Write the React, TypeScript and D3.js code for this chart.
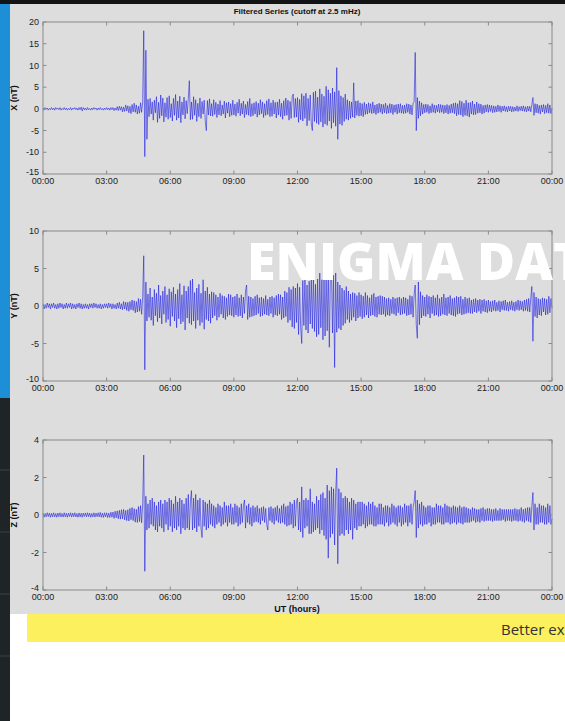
import React from "react";
import * as d3 from "d3";

// ---- data (one value every 0.05 h, 0..24 h; one row per hour) ----
const seriesX = [
  0.2,-0.3,0.3,-0.1,0.2,-0.3,0.1,-0.2,0.3,-0.2,0.2,-0.3,0.3,-0.1,0.2,-0.2,0.3,-0.3,0.1,-0.2,
  0.3,-0.2,0.2,-0.3,0.1,-0.2,0.3,-0.3,0.2,-0.1,0.3,-0.2,0.2,-0.3,0.3,-0.2,0.4,-0.5,0.3,-0.2,
  0.2,-0.3,0.3,-0.2,0.1,-0.3,0.2,-0.2,0.3,-0.1,0.2,-0.3,0.2,-0.2,0.3,-0.2,0.1,-0.3,0.2,-0.2,
  0.3,-0.2,0.2,-0.3,0.3,-0.2,0.3,-0.4,0.2,-0.3,0.5,-0.4,0.6,-0.3,0.5,-0.7,0.4,-0.6,0.9,-0.5,
  0.7,-0.9,0.6,-1.1,1.0,-0.7,1.3,-0.8,0.9,-1.2,0.6,-1.0,1.4,-0.8,1.6,18,-11,13.5,-7,2.2,
  -1.8,2.4,-1.2,1.6,-2.6,2.0,-0.9,2.8,-3.1,1.5,-2.2,3.2,-1.6,2.5,-3.0,1.4,-1.9,2.6,-2.4,3.0,
  -2.0,1.2,-2.8,2.4,-1.5,3.3,-2.6,1.8,-2.1,2.9,-3.2,1.6,-1.4,2.7,-2.3,1.9,-1.1,2.2,6.5,-2.5,
  1.6,-2.4,2.8,-1.5,2.1,-2.9,1.3,-1.8,2.5,-2.2,1.7,-1.2,2.0,-2.7,-5.0,1.9,-1.4,2.3,-1.6,1.2,
  -1.7,2.1,-1.3,1.5,-2.0,1.1,-1.4,1.9,-1.6,0.9,-1.2,1.8,-2.1,1.4,-1.0,1.6,-1.8,1.2,-1.5,2.0,
  -1.4,1.1,-1.7,1.5,-1.0,2.2,-1.6,1.3,-1.2,1.8,-2.0,1.0,-1.3,1.7,-1.5,2.4,-1.8,1.2,-1.6,1.4,
  -1.2,1.7,-1.9,1.3,-1.4,2.1,-1.1,1.6,-2.0,1.2,-1.5,1.9,-1.3,2.3,-1.8,1.4,-1.7,2.0,-1.2,1.5,
  -2.1,1.6,-1.4,2.2,-1.8,1.3,-2.4,1.9,-1.6,2.5,-1.5,2.0,-2.6,1.7,-2.2,2.8,3.4,-2.0,2.4,-1.9,
  2.6,-3.1,2.2,-2.5,3.5,-2.8,3.0,-2.2,3.6,-3.9,2.4,-2.7,3.2,-3.4,-5.0,3.8,-2.9,4.1,-3.3,2.7,
  -3.6,4.6,-3.0,3.4,-4.2,2.9,-3.5,5.2,-3.8,4.4,-2.8,3.6,-4.5,4.8,-3.2,3.9,-4.0,9.5,-7.0,4.2,
  -3.5,3.0,-3.8,2.6,-2.9,3.4,-2.4,2.1,-2.6,1.8,-2.2,1.6,-1.9,6.0,-2.1,1.8,-1.5,1.9,-1.7,1.4,
  -1.6,1.2,-1.8,1.5,-1.3,1.1,-1.2,1.4,-0.9,1.2,-1.1,1.6,-1.0,0.9,-1.3,1.1,-1.0,1.3,-0.8,1.1,
  -1.2,1.0,-0.9,1.3,-1.1,0.8,-1.0,1.2,-0.9,1.1,-1.3,0.9,-0.8,1.0,-1.2,1.1,-0.9,1.2,-1.0,0.8,
  -1.1,0.9,-1.0,1.2,-0.8,1.1,-1.2,0.9,-1.4,1.3,1.6,13.0,-5.0,2.6,-2.2,1.8,-1.6,1.4,-1.2,1.0,
  -0.9,1.1,-0.8,1.0,-1.1,0.7,-0.9,1.2,-0.8,0.9,-1.0,0.8,-0.7,1.1,-0.9,1.0,-0.8,0.9,-1.1,0.8,
  -0.9,1.0,-1.2,0.8,-1.0,1.1,-0.9,1.3,-1.1,1.4,-1.6,1.2,-1.3,1.9,-1.4,1.7,-1.8,1.3,-1.5,2.0,
  -1.6,1.4,-1.9,1.5,-1.2,1.8,-1.4,1.1,-1.3,1.6,-1.0,1.2,-0.9,1.1,-1.2,0.8,-1.0,0.9,-0.7,1.0,
  -0.8,0.9,-0.6,0.8,-0.9,0.7,-0.8,0.6,-0.7,0.9,-0.6,0.7,-0.8,0.6,-0.5,0.7,-0.6,0.5,-0.7,0.6,
  -0.5,0.6,-0.7,0.5,-0.6,0.4,-0.5,0.7,-0.6,0.5,-0.4,0.6,-0.5,0.7,-0.6,0.5,-0.7,0.6,-0.5,0.6,
  -0.7,1.0,2.6,-1.5,1.2,-0.9,1.1,-1.0,0.8,-1.2,0.9,-0.7,1.0,-1.1,0.8,-0.9,1.2,-1.0,0.9,-1.1,
  0.2,
];

const seriesY = [
  0.3,-0.4,0.2,-0.3,0.4,-0.2,0.3,-0.4,0.3,-0.2,0.4,-0.3,0.2,-0.4,0.3,-0.3,0.4,-0.2,0.3,-0.4,
  0.2,-0.3,0.4,-0.3,0.3,-0.2,0.4,-0.4,0.3,-0.3,0.2,-0.4,0.3,-0.2,0.4,-0.3,0.3,-0.4,0.2,-0.3,
  0.3,-0.3,0.2,-0.4,0.3,-0.2,0.3,-0.3,0.4,-0.2,0.3,-0.3,0.2,-0.3,0.3,-0.4,0.2,-0.3,0.3,-0.2,
  0.3,-0.3,0.4,-0.2,0.3,-0.4,0.3,-0.3,0.2,-0.4,0.4,-0.3,0.5,-0.4,0.3,-0.5,0.6,-0.4,0.5,-0.6,
  0.5,-0.7,0.6,-0.5,0.8,-0.6,0.7,-0.9,0.6,-0.8,1.0,-0.7,0.9,-1.1,1.2,6.7,-8.5,3.2,-2.0,1.6,
  -1.5,2.4,-1.9,1.2,-2.6,2.2,-1.3,1.7,-2.1,2.8,-1.6,1.4,-2.4,2.0,-1.1,2.6,-2.2,1.5,-1.8,2.3,
  -2.7,1.9,-1.4,2.5,-2.0,1.6,-2.9,2.2,-1.7,3.0,-2.4,1.5,-2.1,2.7,-3.2,2.0,-1.6,2.6,-2.3,3.4,
  -2.5,3.6,-2.0,1.8,-3.0,2.4,-1.9,2.9,-2.6,1.7,-2.2,3.5,-3.1,2.0,-1.8,2.5,-2.0,1.6,-2.3,1.9,
  -1.6,1.8,-1.3,1.5,-1.9,1.2,-1.5,1.7,-1.1,1.4,-1.6,1.3,-1.8,1.1,-1.4,1.6,-1.2,1.5,-1.3,1.2,
  -1.5,1.3,-1.2,1.6,-1.4,1.1,-1.3,1.5,-1.6,1.2,-1.0,2.0,2.8,-1.8,1.3,-1.5,1.2,-1.4,1.0,-1.3,
  1.3,-1.2,1.5,-1.0,1.1,-1.4,1.2,-1.3,1.0,-1.1,1.4,-1.2,0.9,-1.3,1.2,-1.0,1.3,-1.5,1.1,-1.2,
  1.4,-1.3,1.6,-1.1,1.5,-1.8,1.2,-1.6,2.0,-1.4,1.8,-2.2,2.5,-1.9,2.2,-2.8,2.6,-3.0,2.4,-2.2,
  3.0,-3.8,2.5,-2.9,-5.0,3.4,-2.6,4.0,-3.2,2.8,-3.6,3.3,-2.4,3.7,-3.0,4.2,-3.4,2.9,-4.1,3.6,
  -3.8,4.4,-2.9,3.5,-4.5,3.8,-4.0,4.6,-3.3,5.0,-5.5,3.9,5.2,-3.6,4.1,-8.2,4.4,-3.5,3.2,-3.0,
  2.8,-3.2,2.4,-2.6,2.1,-2.3,2.6,-1.8,2.0,-2.2,1.6,-1.9,1.8,-1.5,1.7,-2.0,1.4,-1.6,1.8,-1.4,
  1.5,-1.7,1.3,-1.5,1.8,-1.2,1.4,-1.6,1.1,-1.3,1.5,-1.2,1.7,-1.4,1.2,-1.5,1.3,-1.1,1.4,-1.2,
  1.3,-1.1,1.2,-1.4,1.0,-1.2,1.1,-1.3,0.9,-1.0,1.2,-1.1,1.0,-1.3,1.1,-0.9,1.2,-1.2,1.0,-1.1,
  1.2,-1.0,1.1,-1.3,0.9,-1.2,1.4,-1.1,1.3,-1.5,1.6,2.8,-2.5,-4.3,3.2,-2.5,1.9,-1.6,1.4,-1.3,
  1.2,-1.4,1.5,-1.1,1.3,-1.6,1.2,-1.0,1.4,-1.3,1.1,-1.2,1.5,-1.4,1.0,-1.3,1.2,-1.1,1.6,-1.2,
  1.1,-1.3,1.2,-1.0,1.4,-1.2,1.0,-1.3,1.1,-1.4,1.3,-1.1,1.2,-1.0,1.3,-1.2,0.9,-1.1,1.2,-1.0,
  1.0,-0.9,1.1,-1.0,0.8,-1.0,0.9,-0.8,1.0,-0.9,0.8,-0.7,0.9,-1.0,0.8,-0.7,0.9,-0.8,0.7,-0.9,
  0.8,-0.7,0.6,-0.8,0.7,-0.6,0.8,-0.7,0.5,-0.6,0.7,-0.8,0.6,-0.5,0.7,-0.6,0.8,-0.6,0.5,-0.7,
  0.6,-0.5,0.7,-0.6,0.5,-0.7,0.6,-0.5,0.8,-0.6,0.7,-0.5,0.6,-0.7,0.8,-0.6,0.9,-0.7,1.0,-0.8,
  1.1,2.6,-4.7,1.8,-1.4,1.2,-1.6,1.0,-1.2,0.9,-1.3,1.1,-0.8,1.0,-1.2,0.9,-1.1,1.3,-0.9,1.0,
  -0.3,
];

const seriesZ = [
  0.1,-0.12,0.08,-0.1,0.12,-0.08,0.1,-0.12,0.09,-0.1,0.12,-0.1,0.08,-0.12,0.1,-0.09,0.12,-0.1,0.08,-0.11,
  0.12,-0.1,0.09,-0.12,0.1,-0.08,0.12,-0.11,0.1,-0.09,0.12,-0.1,0.08,-0.12,0.11,-0.1,0.09,-0.12,0.1,-0.08,
  0.11,-0.1,0.12,-0.09,0.1,-0.12,0.08,-0.1,0.12,-0.11,0.1,-0.09,0.12,-0.1,0.14,-0.12,0.1,-0.13,0.12,-0.1,
  0.12,-0.14,0.1,-0.13,0.15,-0.12,0.16,-0.18,0.2,-0.15,0.22,-0.2,0.25,-0.22,0.28,-0.2,0.3,-0.26,0.24,-0.3,
  0.28,-0.32,0.35,-0.25,0.4,-0.3,0.34,-0.38,0.3,-0.4,0.45,-0.35,0.5,-0.42,0.6,3.2,-3.0,1.0,-0.8,0.6,
  -0.7,0.8,-0.5,0.9,-0.6,0.7,-0.8,0.5,-0.9,0.7,-0.6,0.8,-0.7,0.6,-0.9,0.8,-0.5,0.7,-0.8,0.9,
  -0.6,0.8,-0.9,0.6,-0.7,1.0,-0.8,0.7,-0.6,0.9,-1.0,0.8,-0.7,0.6,-0.8,0.9,-0.7,1.1,-0.8,0.7,
  1.3,-0.8,0.9,-0.7,1.1,-0.9,0.8,-0.6,0.9,-0.7,-1.2,0.8,-0.6,0.7,-0.8,0.6,-0.7,0.8,-0.5,0.6,
  -0.6,0.5,-0.7,0.4,-0.5,0.6,-0.4,0.5,-0.6,0.4,-0.5,0.7,-0.4,0.5,-0.6,0.5,-0.4,0.6,-0.5,0.4,
  -0.5,0.6,-0.4,0.5,-0.6,0.4,-0.5,0.6,-0.4,0.5,0.8,-0.7,0.5,-0.4,0.6,-0.5,0.4,-0.6,0.5,-0.4,
  0.4,-0.35,0.5,-0.4,0.35,-0.5,0.4,-0.3,0.45,-0.4,0.35,-0.5,-0.8,0.4,-0.3,0.45,-0.4,0.35,-0.5,0.4,
  -0.3,0.5,-0.4,0.35,-0.45,0.5,-0.4,0.6,-0.5,0.45,-0.6,0.5,-0.55,0.7,-0.5,0.6,-0.7,0.8,-0.6,0.7,
  0.9,-0.8,0.7,-0.9,1.5,-1.2,0.8,-0.7,0.9,-0.6,0.8,-1.0,1.4,-1.0,0.7,-0.9,0.6,-0.8,1.0,-0.7,
  0.8,-1.0,1.1,-0.8,1.2,-1.1,0.9,-1.3,1.6,-2.3,1.3,-1.2,1.5,-1.0,1.4,-1.6,1.2,2.5,-2.6,1.4,
  -1.1,1.2,-1.0,0.9,-1.1,1.0,-0.8,0.9,-1.0,0.7,-0.8,0.9,-1.3,0.8,-0.7,0.6,-0.8,0.7,-0.6,0.7,
  -0.6,0.7,-0.5,0.6,-0.7,0.5,-0.6,0.7,-0.5,0.6,-0.5,0.7,-0.6,0.5,-0.6,0.4,-0.5,0.6,-0.5,0.6,
  -0.5,0.4,-0.6,0.5,-0.4,0.5,-0.6,0.4,-0.5,0.6,-0.4,0.5,-0.5,0.4,-0.6,0.5,-0.4,0.5,-0.6,0.4,
  -0.5,0.6,-0.4,0.5,-0.6,0.5,-0.4,0.6,-0.5,0.4,0.7,1.3,-1.2,0.8,-0.7,0.6,-0.5,0.7,-0.6,0.5,
  -0.5,0.4,-0.5,0.5,-0.4,0.5,-0.6,0.4,-0.5,0.4,-0.5,0.6,-0.4,0.5,-0.4,0.5,-0.5,0.4,-0.5,0.6,
  -0.4,0.5,-0.4,0.45,-0.5,0.4,-0.45,0.5,-0.4,0.45,-0.5,0.4,-0.4,0.5,-0.45,0.4,-0.5,0.45,-0.4,0.4,
  -0.4,0.35,-0.4,0.3,-0.35,0.4,-0.3,0.35,-0.4,0.3,-0.35,0.3,-0.4,0.35,-0.3,0.4,-0.35,0.3,-0.3,0.35,
  -0.3,0.35,-0.3,0.3,-0.35,0.3,-0.3,0.35,-0.3,0.25,-0.3,0.35,-0.3,0.3,-0.25,0.3,-0.35,0.3,-0.3,0.3,
  -0.3,0.3,-0.35,0.3,-0.3,0.35,-0.3,0.3,-0.35,0.3,-0.3,0.4,-0.35,0.3,-0.4,0.35,-0.3,0.4,-0.35,0.4,
  -0.4,0.5,1.2,-0.8,0.6,-0.5,0.4,-0.5,0.6,-0.4,0.5,-0.4,0.5,-0.5,0.4,-0.5,0.6,-0.4,0.5,-0.5,
  -0.2,
];

const STEP_HOURS = 0.05;
const hourTicks = [0, 3, 6, 9, 12, 15, 18, 21, 24];
const hourLabels = ["00:00", "03:00", "06:00", "09:00", "12:00", "15:00", "18:00", "21:00", "00:00"];

const yLabels = ["X (nT)", "Y (nT)", "Z (nT)"];
const yDomains: [number, number][] = [[-15, 20], [-10, 10], [-4, 4]];
const yTickValues = [
  [-15, -10, -5, 0, 5, 10, 15, 20],
  [-10, -5, 0, 5, 10],
  [-4, -2, 0, 2, 4],
];
const allSeries = [seriesX, seriesY, seriesZ];

const titleText = "Filtered Series (cutoff at 2.5 mHz)";
const xAxisLabel = "UT (hours)";

// ---- layout ----
const W = 565;
const H = 721;
const PLOT_LEFT = 43;
const PLOT_RIGHT = 552;
const panelTops = [22, 231, 440];
const panelBottoms = [174, 381, 590];
const FONT = "'Liberation Sans', Arial, Helvetica, sans-serif";

function Panel({ idx }: { idx: number }) {
  const top = panelTops[idx];
  const bottom = panelBottoms[idx];
  const x = d3.scaleLinear().domain([0, 24]).range([PLOT_LEFT, PLOT_RIGHT]);
  const y = d3.scaleLinear().domain(yDomains[idx]).range([bottom, top]);
  const data = allSeries[idx];
  const line = d3
    .line<number>()
    .x((_, i) => x(i * STEP_HOURS))
    .y((v) => y(v));
  const tickLen = 3.5;
  const axisColor = "#8a8a8a";
  const mid = (top + bottom) / 2;
  return (
    <g>
      <path d={line(data) || ""} fill="none" stroke="#1212e4" strokeWidth={0.55} strokeLinejoin="round" />
      <rect x={PLOT_LEFT} y={top} width={PLOT_RIGHT - PLOT_LEFT} height={bottom - top} fill="none" stroke={axisColor} strokeWidth={1} />
      {hourTicks.map((h, i) => (
        <g key={"xt" + i}>
          <line x1={x(h)} x2={x(h)} y1={bottom} y2={bottom - tickLen} stroke={axisColor} />
          <line x1={x(h)} x2={x(h)} y1={top} y2={top + tickLen} stroke={axisColor} />
          <text x={x(h)} y={bottom + 10} fontSize={9} textAnchor="middle" fill="#222" fontFamily={FONT}>
            {hourLabels[i]}
          </text>
        </g>
      ))}
      {yTickValues[idx].map((v, i) => (
        <g key={"yt" + i}>
          <line x1={PLOT_LEFT} x2={PLOT_LEFT + tickLen} y1={y(v)} y2={y(v)} stroke={axisColor} />
          <line x1={PLOT_RIGHT} x2={PLOT_RIGHT - tickLen} y1={y(v)} y2={y(v)} stroke={axisColor} />
          <text x={PLOT_LEFT - 4} y={y(v) - (i === 0 ? 2 : 0)} dy="0.35em" fontSize={9} textAnchor="end" fill="#222" fontFamily={FONT}>
            {v}
          </text>
        </g>
      ))}
      <text
        transform={`translate(17,${mid}) rotate(-90)`}
        fontSize={9}
        fontWeight="bold"
        textAnchor="middle"
        fill="#111"
        fontFamily={FONT}
      >
        {yLabels[idx]}
      </text>
    </g>
  );
}

export default function App() {
  const darkLines = [470, 532, 594, 656];
  return (
    <div style={{ position: "fixed", left: 0, top: 0, width: W, height: H, overflow: "hidden" }}>
      <svg width={W} height={H} viewBox={`0 0 ${W} ${H}`} style={{ display: "block" }}>
        <rect x={0} y={0} width={W} height={H} fill="#ffffff" />
        <rect x={10} y={4} width={W - 10} height={610} fill="#dddddd" />
        <rect x={0} y={0} width={W} height={4} fill="#111315" />
        <rect x={0} y={4} width={10} height={394} fill="#1c8fd6" />
        <rect x={0} y={398} width={10} height={H - 398} fill="#1f2427" />
        {darkLines.map((yy) => (
          <line key={yy} x1={0} x2={10} y1={yy} y2={yy} stroke="#3a4146" strokeWidth={1} />
        ))}
        <rect x={27} y={614} width={W - 27} height={28} fill="#fdf05f" />
        <text x={501} y={635} fontSize={15} fill="#333" fontFamily="'Open Sans', sans-serif" fontWeight={400}>
          Better ex
        </text>

        <text x={297} y={14} fontSize={8} fontWeight="bold" textAnchor="middle" fill="#111" fontFamily={FONT}>
          {titleText}
        </text>
        {[0, 1, 2].map((i) => (
          <Panel key={i} idx={i} />
        ))}
        <text x={297} y={612} fontSize={9} fontWeight="bold" textAnchor="middle" fill="#111" fontFamily={FONT}>
          {xAxisLabel}
        </text>

        <text x={247} y={280} fontSize={52} fontWeight={800} fill="#ffffff" fontFamily="'Open Sans', sans-serif">
          ENIGMA DAT
        </text>
      </svg>
    </div>
  );
}
